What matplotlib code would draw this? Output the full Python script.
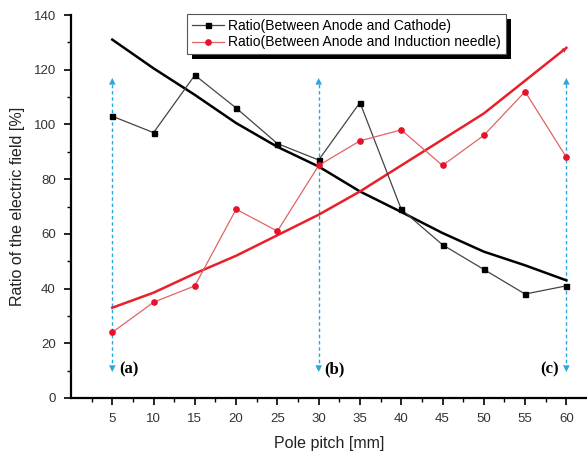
import matplotlib
matplotlib.use("Agg")
import matplotlib.pyplot as plt
from matplotlib.ticker import MultipleLocator, FixedLocator
from matplotlib.patches import Rectangle
from matplotlib.transforms import IdentityTransform

plt.rcParams['font.family'] = ['Liberation Sans', 'DejaVu Sans']

pitch = [5, 10, 15, 20, 25, 30, 35, 40, 45, 50, 55, 60]
ratio_cathode = [103, 97, 118, 106, 93, 87, 108, 69, 56, 47, 38, 41]
ratio_needle = [24, 35, 41, 69, 61, 85, 94, 98, 85, 96, 112, 88]
trend_cathode = [131, 120.5, 110.8, 100.5, 91.8, 84.6, 75.5, 68, 60.3, 53.5, 48.5, 43]
trend_needle = [33, 38.5, 45.5, 52, 59.5, 67, 75.5, 85, 94.5, 104, 116, 128]
marker_x = [5, 30, 60]
marker_labels = ['(a)', '(b)', '(c)']
arrow_range = (8.5, 118)

fig = plt.figure(figsize=(5.87, 4.57), dpi=100)
ax = fig.add_axes([71/587, 1-398/457, 516/587, 383/457])

ax.plot(pitch, trend_cathode, color='black', lw=1.8, zorder=3)
ax.plot(pitch, trend_needle, color='#e8202a', lw=1.8, zorder=3)
ax.annotate('', xy=(pitch[-1] + 0.3, trend_needle[-1] + 0.8), xytext=(pitch[-1] - 1.5, trend_needle[-1] - 4),
            arrowprops=dict(arrowstyle='-|>', color='#e8202a', lw=0, mutation_scale=9), zorder=3)

l1, = ax.plot(pitch, ratio_cathode, color='#444444', lw=0.9, marker='s', ms=3.6,
              mfc='black', mec='black', label='Ratio(Between Anode and Cathode)', zorder=4)
l2, = ax.plot(pitch, ratio_needle, color='#e06464', lw=0.9, marker='o', ms=3.8,
              mfc='#e8102a', mec='#e8102a', label='Ratio(Between Anode and Induction needle)', zorder=4)

for xv in marker_x:
    ax.plot([xv, xv], [arrow_range[0] + 2, arrow_range[1] - 2], color='#2aa6e0',
            lw=1.0, ls=(0, (2.5, 2)), zorder=2)
    ax.annotate('', xy=(xv, arrow_range[1]), xytext=(xv, arrow_range[1] - 4),
                arrowprops=dict(arrowstyle='-|>', color='#2aa6e0', lw=0, mutation_scale=12))
    ax.annotate('', xy=(xv, arrow_range[0]), xytext=(xv, arrow_range[0] + 4),
                arrowprops=dict(arrowstyle='-|>', color='#2aa6e0', lw=0, mutation_scale=12))

lab_font = dict(family=['Liberation Serif', 'DejaVu Serif'], fontweight='bold', fontsize=12)
ax.text(marker_x[0] + 0.9, 10.5, marker_labels[0], ha='left', va='center', **lab_font)
ax.text(marker_x[1] + 0.7, 10.5, marker_labels[1], ha='left', va='center', **lab_font)
ax.text(marker_x[2] - 0.9, 10.5, marker_labels[2], ha='right', va='center', **lab_font)

ax.set_xlim(0, 62.5)
ax.set_ylim(0, 140)
ax.xaxis.set_major_locator(FixedLocator(pitch))
ax.xaxis.set_minor_locator(FixedLocator([2.5 + 5*i for i in range(12)]))
ax.yaxis.set_major_locator(MultipleLocator(20))
ax.yaxis.set_minor_locator(MultipleLocator(10))
ax.tick_params(which='major', direction='out', length=5, width=1.2, labelsize=9.5,
               labelcolor='#333333', pad=6)
ax.tick_params(which='minor', direction='out', length=3, width=1.0)
for s in ['top', 'right']:
    ax.spines[s].set_visible(False)
for s in ['left', 'bottom']:
    ax.spines[s].set_linewidth(1.6)

ax.set_xlabel('Pole pitch [mm]', fontsize=11.5, color='#222222', labelpad=8)
ax.set_ylabel('Ratio of the electric field [%]', fontsize=11.5, color='#222222', labelpad=6)

leg = ax.legend(handles=[l1, l2], loc='upper left', bbox_to_anchor=(0.225, 1.003),
                borderaxespad=0, fontsize=10, frameon=True, fancybox=False,
                edgecolor='#555555', framealpha=1, handlelength=2.3, handletextpad=0.3,
                borderpad=0.35, labelspacing=0.2)
leg.get_frame().set_linewidth(0.8)
leg.set_zorder(6)

fig.canvas.draw()
bb = leg.get_window_extent()
shadow = Rectangle((bb.x0 + 5, bb.y0 - 5), bb.width, bb.height, transform=IdentityTransform(),
                   facecolor='black', edgecolor='none', zorder=5.5, clip_on=False)
ax.add_artist(shadow)

fig.savefig('out.png', dpi=100)
